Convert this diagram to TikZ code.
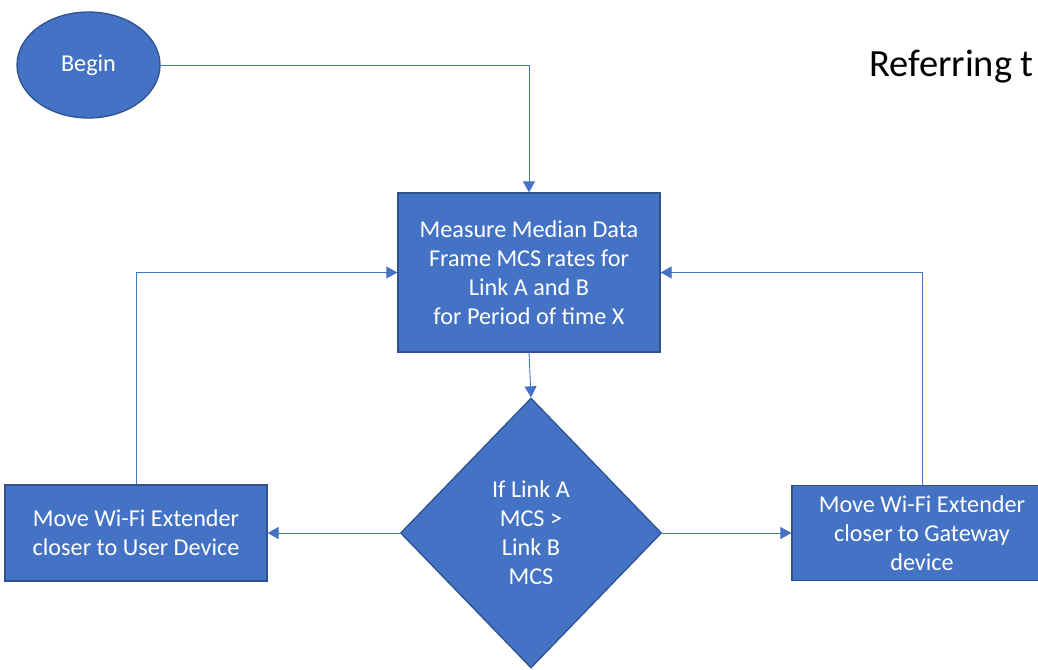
\documentclass[tikz,border=0pt]{standalone}
\usepackage{fontspec}
\setmainfont{Carlito}
\usepackage{tikz}
\usetikzlibrary{arrows.meta,positioning,shapes.geometric}
\definecolor{officeblue}{HTML}{4472C4}
\definecolor{officeedge}{HTML}{2F528F}
\newcommand{\colorTikzFill}{officeblue}
\newcommand{\colorTikzEdge}{officeedge}

\begin{document}
\begin{tikzpicture}[x=1pt, y=-1pt,
        flowbox/.style={draw=\colorTikzEdge, line width=1.3pt, fill=\colorTikzFill, text=white, align=center, inner sep=0pt, font=\fontsize{24.2}{29}\selectfont},
        conn/.style={draw=\colorTikzFill, line width=0.9pt, -{Triangle[width=12pt,length=11pt]}}]
        \useasboundingbox (0, 0) rectangle (1038, 669);
        \fill[white] (0, 0) rectangle (1038, 669);
        \clip (0, 0) rectangle (1038, 669);

        \node[flowbox, ellipse, minimum width=143pt, minimum height=106pt] (begin) at (88.5, 65) {Begin};
        \node[flowbox, minimum width=262pt, minimum height=159pt] (measure) at (529, 272.5) {Measure Median Data\\Frame MCS rates for\\Link A and B\\for Period of time X};
        \node[flowbox, diamond, minimum width=261pt, minimum height=270pt] (decide) at (531, 533) {If Link A\\MCS >\\Link B\\MCS};
        \node[flowbox, minimum width=262pt, minimum height=96pt] (userbox) at (136, 533) {Move Wi-Fi Extender\\closer to User Device};
        \node[flowbox, minimum width=260pt, minimum height=95pt] (gwbox) at (922, 533) {Move Wi-Fi Extender\\closer to Gateway\\device};

        \node[anchor=base west, inner sep=0pt, font=\fontsize{38.5}{42}\selectfont] (note) at (869, 76) {Referring t};

        \draw[conn] (begin.east) -| (measure.north);
        \draw[conn] (measure.south) -- (decide.north);
        \draw[conn] (decide.west) -- (userbox.east);
        \draw[conn] (decide.east) -- (gwbox.west);
        \draw[conn] (userbox.north) |- (measure.west);
        \draw[conn] (gwbox.north) |- (measure.east);

\end{tikzpicture}
\end{document}
